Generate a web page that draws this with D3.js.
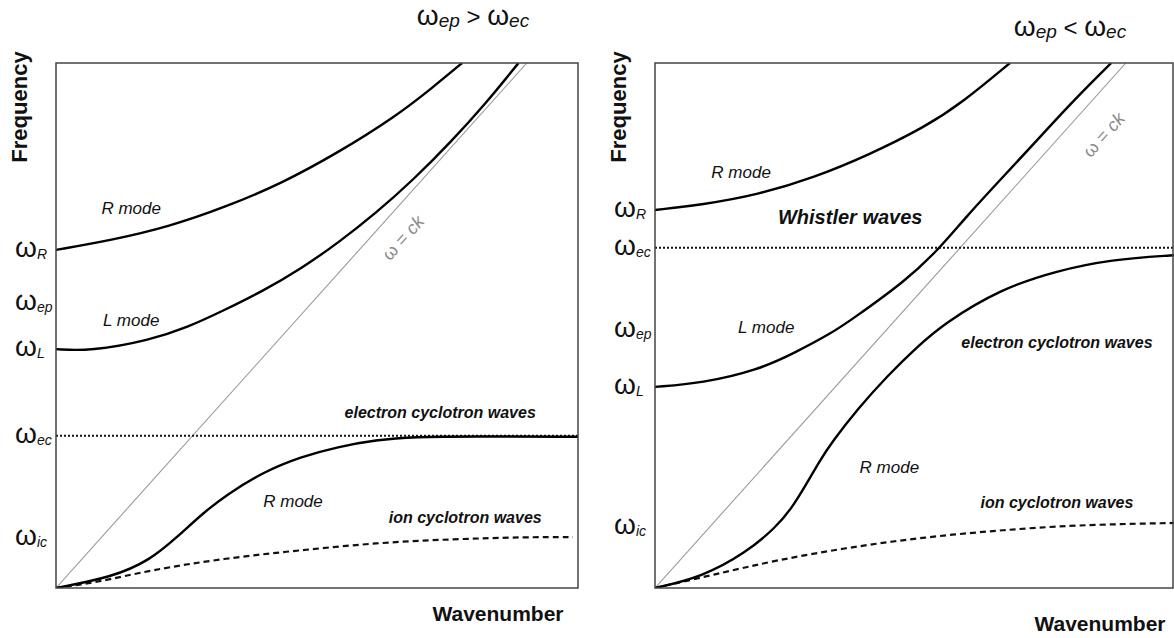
<!DOCTYPE html>
<html>
<head>
<meta charset="utf-8">
<script src="https://cdn.jsdelivr.net/npm/d3@7"></script>
<style>
  body { margin: 0; background: #fff; }
  svg { display: block; font-family: "Liberation Sans", Arial, Helvetica, sans-serif; }
</style>
</head>
<body>
<div class="chart-container"></div>
<script>
// 資料 (k = wavenumber, w = frequency, 0..1)
const leftRUpper = [[0, 0.644], [0.109, 0.663], [0.216, 0.688], [0.326, 0.726], [0.433, 0.771], [0.540, 0.829], [0.649, 0.897], [0.720, 0.952], [0.778, 1.0]];
const leftLMode = [[0, 0.455], [0.065, 0.451], [0.180, 0.472], [0.253, 0.497], [0.318, 0.527], [0.397, 0.566], [0.469, 0.608], [0.540, 0.657], [0.613, 0.714], [0.686, 0.779], [0.757, 0.850], [0.825, 0.925], [0.878, 0.990], [0.886, 1.0]];
const leftRLower = [[0, 0], [0.109, 0.021], [0.180, 0.053], [0.232, 0.097], [0.282, 0.143], [0.326, 0.177], [0.397, 0.221], [0.469, 0.250], [0.540, 0.269], [0.613, 0.282], [0.686, 0.288], [0.800, 0.289], [1.0, 0.288]];
const leftIon = [[0, 0], [0.080, 0.011], [0.180, 0.034], [0.326, 0.057], [0.469, 0.072], [0.613, 0.086], [0.757, 0.093], [0.900, 0.097], [0.990, 0.097]];
const leftEc = 0.290;
const leftLevels = [['R', 0.644], ['ep', 0.543], ['L', 0.455], ['ec', 0.290], ['ic', 0.095]];
const leftNotes = [
  ['R mode', 0.144, 0.722, 'plain'],
  ['L mode', 0.144, 0.509, 'plain'],
  ['electron cyclotron waves', 0.736, 0.335, 'bold'],
  ['R mode', 0.454, 0.164, 'plain'],
  ['ion cyclotron waves', 0.784, 0.135, 'bold']
];
const leftCk = [0.665, 0.667];

const rightRUpper = [[0, 0.720], [0.090, 0.730], [0.197, 0.749], [0.303, 0.781], [0.410, 0.825], [0.517, 0.878], [0.588, 0.924], [0.680, 1.0]];
const rightLMode = [[0, 0.383], [0.090, 0.390], [0.197, 0.415], [0.268, 0.448], [0.339, 0.486], [0.375, 0.510], [0.483, 0.587], [0.546, 0.648], [0.596, 0.707], [0.661, 0.777], [0.732, 0.853], [0.803, 0.930], [0.874, 1.0]];
const rightRLower = [[0, 0], [0.090, 0.021], [0.174, 0.067], [0.232, 0.116], [0.262, 0.152], [0.290, 0.198], [0.316, 0.243], [0.339, 0.278], [0.389, 0.342], [0.446, 0.405], [0.504, 0.461], [0.554, 0.504], [0.661, 0.569], [0.768, 0.604], [0.874, 0.626], [0.994, 0.634], [1.0, 0.634]];
const rightIon = [[0, 0], [0.111, 0.025], [0.232, 0.053], [0.375, 0.078], [0.517, 0.097], [0.661, 0.110], [0.803, 0.120], [1.0, 0.124]];
const rightEc = 0.648;
const rightLevels = [['R', 0.720], ['ec', 0.648], ['ep', 0.491], ['L', 0.383], ['ic', 0.116]];
const rightNotes = [
  ['R mode', 0.165, 0.792, 'plain'],
  ['Whistler waves', 0.374, 0.707, 'big'],
  ['L mode', 0.213, 0.497, 'plain'],
  ['electron cyclotron waves', 0.770, 0.467, 'bold'],
  ['R mode', 0.449, 0.230, 'plain'],
  ['ion cyclotron waves', 0.770, 0.162, 'bold']
];
const rightCk = [0.860, 0.863];

const lightLine = [[0, 0], [0.902, 1.0]];
const titles = [['ep', '>', 'ec'], ['ep', '<', 'ec']];

const svg_width = 1174, svg_height = 638;
const svg = d3.select('.chart-container').append('svg')
  .attr('width', svg_width).attr('height', svg_height);

// ω + 下標
function omega(sel, sub, bigSize, subSize) {
  sel.append('tspan').text('ω').style('font-size', bigSize + 'px');
  sel.append('tspan').text(sub).style('font-size', subSize + 'px')
    .style('font-style', 'italic').attr('dy', 2);
}

function drawPanel(p) {
  const x = d3.scaleLinear().domain([0, 1]).range([p.left, p.left + 522]);
  const y = d3.scaleLinear().domain([0, 1]).range([588, 63]);
  const g = svg.append('g');

  const line = d3.line().x(d => x(d[0])).y(d => y(d[1])).curve(d3.curveBasis);

  // clip so curves stop at frame
  const clipId = 'clip' + p.id;
  svg.append('clipPath').attr('id', clipId).append('rect')
    .attr('x', x(0)).attr('y', y(1)).attr('width', x(1) - x(0)).attr('height', y(0) - y(1));
  const plot = g.append('g').attr('clip-path', `url(#${clipId})`);

  plot.append('path').datum(lightLine).attr('d', d3.line().x(d => x(d[0])).y(d => y(d[1])))
    .attr('fill', 'none').attr('stroke', '#9a9a9a').attr('stroke-width', 1.1);

  plot.append('line').attr('x1', x(0)).attr('x2', x(1)).attr('y1', y(p.ec)).attr('y2', y(p.ec))
    .attr('stroke', '#111').attr('stroke-width', 2).attr('stroke-dasharray', '2,2');

  plot.append('path').datum(p.ion).attr('d', line)
    .attr('fill', 'none').attr('stroke', '#111').attr('stroke-width', 2.2).attr('stroke-dasharray', '6,4');

  [p.rUpper, p.lMode, p.rLower].forEach(c => {
    plot.append('path').datum(c).attr('d', line)
      .attr('fill', 'none').attr('stroke', '#000').attr('stroke-width', 2.4);
  });

  // frame
  g.append('rect').attr('x', x(0)).attr('y', y(1))
    .attr('width', Math.min(x(1), svg_width - 1) - x(0)).attr('height', y(0) - y(1))
    .attr('fill', 'none').attr('stroke', '#444').attr('stroke-width', 1.5);

  // 左側 ω 標籤
  p.levels.forEach(d => {
    const t = g.append('text').attr('x', x(0) - 41).attr('y', y(d[1]) + 7).attr('fill', '#111');
    omega(t, d[0], 28, 14);
  });

  // annotations
  p.notes.forEach(d => {
    const t = g.append('text').attr('x', x(d[1])).attr('y', y(d[2]))
      .attr('text-anchor', 'middle').attr('dominant-baseline', 'central')
      .style('font-style', 'italic').attr('fill', '#111').text(d[0]);
    if (d[3] === 'plain') t.style('font-size', '17px');
    if (d[3] === 'bold') t.style('font-size', '16px').style('font-weight', 'bold');
    if (d[3] === 'big') t.style('font-size', '20px').style('font-weight', 'bold');
  });

  // ω = ck
  const angle = Math.atan2(y(0) - y(1), x(lightLine[1][0]) - x(0)) * 180 / Math.PI;
  const ck = g.append('text')
    .attr('transform', `translate(${x(p.ck[0])},${y(p.ck[1])}) rotate(${-angle})`)
    .attr('text-anchor', 'middle').attr('dominant-baseline', 'central')
    .attr('fill', '#8a8a8a').style('font-size', '18px');
  ck.append('tspan').text('ω = ');
  ck.append('tspan').text('ck').style('font-style', 'italic');

  // axis titles
  g.append('text').attr('transform', `translate(${x(0) - 37},107) rotate(-90)`)
    .attr('text-anchor', 'middle').attr('dominant-baseline', 'central')
    .style('font-size', '22px').style('font-weight', 'bold').attr('fill', '#111').text('Frequency');
  g.append('text').attr('x', p.wavX).attr('y', p.wavY)
    .attr('text-anchor', 'middle').attr('dominant-baseline', 'central')
    .style('font-size', '21px').style('font-weight', 'bold').attr('fill', '#111').text('Wavenumber');

  // top title
  const tt = g.append('text').attr('x', p.titleX).attr('y', p.titleY)
    .attr('text-anchor', 'middle').attr('fill', '#111');
  omega(tt, p.title[0], 28, 19);
  tt.append('tspan').text(' ' + p.title[1] + ' ').style('font-size', '24px').attr('dy', -2);
  omega(tt, p.title[2], 28, 19);
}

drawPanel({ id: 'L', left: 56, rUpper: leftRUpper, lMode: leftLMode, rLower: leftRLower, ion: leftIon,
  ec: leftEc, levels: leftLevels, notes: leftNotes, ck: leftCk, title: titles[0],
  titleX: 473, titleY: 25, wavX: 498, wavY: 613 });
drawPanel({ id: 'R', left: 655, rUpper: rightRUpper, lMode: rightLMode, rLower: rightRLower, ion: rightIon,
  ec: rightEc, levels: rightLevels, notes: rightNotes, ck: rightCk, title: titles[1],
  titleX: 1070, titleY: 36, wavX: 1100, wavY: 623 });
</script>
</body>
</html>
